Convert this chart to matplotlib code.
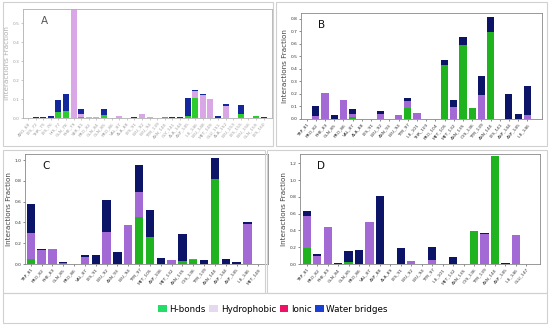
import matplotlib
matplotlib.use("Agg")
import matplotlib.pyplot as plt
from matplotlib.patches import Rectangle, Patch
import numpy as np

# ---------------- data ----------------
res_A = ["ARG_68", "LYS_72", "THR_75", "LYS_76", "HIS_77", "GLN_78", "PHE_79", "SER_81",
         "PRO_82", "GLN_84", "GLN_85", "PRO_86", "VAL_87", "ALA_88", "LYS_91", "LEU_92",
         "LEU_94", "TYR_139", "ASN_140", "GLY_141", "ALA_144", "ASP_145", "ILE_146", "LEU_148",
         "MET_149", "GLU_151", "ALA_152", "LEU_153", "LYS_155", "LEU_156", "GLN_159", "LYS_160"]
hb_A = [0, 0, 0, 0, 0.03, 0.035, 0, 0.005, 0, 0, 0.015, 0, 0, 0, 0, 0,
        0, 0, 0.003, 0, 0, 0.01, 0.105, 0, 0, 0, 0, 0, 0.02, 0, 0.012, 0]
hp_A = [0, 0, 0, 0, 0, 0, 0.59, 0.015, 0.003, 0.003, 0, 0, 0.01, 0.002, 0, 0.02,
        0.004, 0, 0, 0, 0, 0, 0.035, 0.119, 0.1, 0, 0.065, 0.002, 0, 0.002, 0, 0]
wb_A = [0.002, 0.005, 0.007, 0.008, 0.064, 0.09, 0, 0.03, 0, 0, 0.035, 0, 0, 0, 0.003, 0,
        0, 0, 0.004, 0.004, 0.004, 0.097, 0.007, 0.006, 0, 0.01, 0.007, 0, 0.047, 0, 0, 0.005]

res_B = ["TRP_81", "PRO_82", "PHE_83", "GLN_85", "PRO_86", "VAL_87", "ALA_88", "LYS_91",
         "LEU_92", "ASN_93", "LEU_94", "TYR_97", "ILE_101", "THR_103", "PRO_104", "MET_105",
         "MET_132", "ASN_135", "CYS_136", "TYR_139", "ASN_140", "LYS_141", "ASP_144", "ASP_145", "ILE_146"]
hb_B = [0, 0, 0, 0, 0, 0.015, 0, 0, 0, 0, 0, 0.09, 0, 0, 0, 0.43,
        0, 0.59, 0.085, 0, 0.69, 0, 0, 0, 0]
hp_B = [0, 0.02, 0.207, 0, 0.155, 0.025, 0, 0, 0.04, 0, 0.03, 0.055, 0.045, 0, 0, 0,
        0.095, 0, 0, 0.19, 0, 0, 0, 0, 0.03]
wb_B = [0.003, 0.08, 0, 0.03, 0, 0.04, 0, 0.003, 0.02, 0, 0, 0.02, 0, 0, 0.002, 0.04,
        0.055, 0.065, 0, 0.155, 0.12, 0.003, 0.2, 0.04, 0.23]

res_C = ["TRP_81", "PRO_82", "PHE_83", "GLN_85", "PRO_86", "VAL_87", "LYS_91", "LEU_92",
         "ASN_93", "LEU_94", "TYR_97", "MET_105", "ASP_106", "MET_132", "ASN_135", "CYS_136",
         "TYR_139", "ASN_140", "ASP_144", "ASP_145", "ILE_146", "MET_149"]
hb_C = [0.045, 0, 0, 0.01, 0, 0, 0, 0, 0, 0, 0.45, 0.26, 0, 0, 0.03, 0.035,
        0, 0.82, 0, 0, 0, 0]
hp_C = [0.255, 0.135, 0.14, 0, 0, 0.07, 0, 0.305, 0, 0.375, 0.245, 0, 0, 0.035, 0, 0.015,
        0, 0, 0, 0, 0.39, 0]
wb_C = [0.275, 0.005, 0, 0.005, 0, 0.015, 0.085, 0.31, 0.12, 0, 0.26, 0.26, 0.055, 0, 0.255, 0,
        0.035, 0.2, 0.045, 0.02, 0.012, 0]

res_D = ["TRP_81", "PRO_82", "PHE_83", "GLN_84", "GLN_85", "PRO_86", "VAL_87", "ASP_88",
         "ALA_89", "LYS_91", "LEU_92", "LEU_94", "TYR_97", "ILE_101", "MET_132", "ASN_135",
         "CYS_136", "TYR_139", "ASN_140", "ASP_145", "ILE_146", "GLU_147"]
hb_D = [0.19, 0, 0, 0, 0.025, 0, 0, 0.005, 0, 0.005, 0, 0, 0, 0, 0, 0,
        0.395, 0, 1.29, 0, 0, 0]
hp_D = [0.38, 0.1, 0.44, 0, 0, 0, 0.505, 0, 0, 0, 0.035, 0, 0.05, 0, 0, 0,
        0, 0.355, 0, 0, 0.35, 0]
wb_D = [0.065, 0.015, 0, 0.015, 0.135, 0.165, 0, 0.81, 0.005, 0.18, 0, 0.005, 0.15, 0, 0.08, 0.005,
        0, 0.01, 0, 0.01, 0, 0]

legend_labels = ["H-bonds", "Hydrophobic", "Ionic", "Water bridges"]

# ---------------- style ----------------
GREEN = "#1fb41f"
PURPLE = "#a36ad6"
NAVY = "#0b1466"
A_GREEN = "#2ccc2c"
A_PURPLE = "#d9a6e6"
A_NAVY = "#13289c"

W, H = 550, 328
fig = plt.figure(figsize=(5.5, 3.28), dpi=100)
fig.patch.set_facecolor("white")

def frac(l, t, r, b):
    return [l / W, 1 - b / H, (r - l) / W, (b - t) / H]

# panel boxes
for (l, t, r, b) in [(3, 2, 273, 146), (276, 2, 547, 146), (3, 150, 265, 293), (267, 150, 547, 293), (3, 293, 547, 323)]:
    fig.patches.append(Rectangle((l / W, 1 - b / H), (r - l) / W, (b - t) / H,
                                 transform=fig.transFigure, fill=False,
                                 edgecolor="#d0d0d0", linewidth=0.8))

def panel(rect, names, hb, hp, wb, xlim, ylim, yticks, letter, cols, faded=False):
    ax = fig.add_axes(frac(*rect))
    x = np.arange(len(names))
    hb = np.array(hb); hp = np.array(hp); wb = np.array(wb)
    ax.bar(x, hb, width=0.78, color=cols[0], linewidth=0)
    ax.bar(x, hp, width=0.78, bottom=hb, color=cols[1], linewidth=0)
    ax.bar(x, wb, width=0.78, bottom=hb + hp, color=cols[2], linewidth=0)
    ax.set_xlim(*xlim)
    ax.set_ylim(*ylim)
    ax.set_yticks(yticks)
    ax.set_yticklabels([f"{v:.1f}" for v in yticks])
    ax.set_xticks(x)
    tc = "#a0a0a0" if faded else "#333333"
    ax.set_xticklabels(names, rotation=50, ha="right", rotation_mode="anchor", fontsize=3.2, color=tc)
    ax.tick_params(axis="y", labelsize=3.2, colors=tc, length=1.5, width=0.4, pad=1)
    ax.tick_params(axis="x", length=1.5, width=0.4, pad=1, colors=tc)
    for s in ax.spines.values():
        s.set_color("#b0b0b0" if faded else "#888888")
        s.set_linewidth(0.6)
    ax.set_ylabel("Interactions Fraction", fontsize=5.2, color="#b0b0b0" if faded else "#444444", labelpad=2)
    ax.text(0.07, 0.86, letter, transform=ax.transAxes, fontsize=7.5,
            color="#555555" if faded else "#111111")
    return ax

panel((23, 9, 272, 118), res_A, hb_A, hp_A, wb_A, (-0.66, 32.1), (0, 0.575),
      np.arange(0, 0.51, 0.1), "A", (A_GREEN, A_PURPLE, A_NAVY), faded=True)
panel((301, 13, 542, 119), res_B, hb_B, hp_B, wb_B, (-0.62, 25.6), (0, 0.845),
      np.arange(0, 0.81, 0.1), "B", (GREEN, PURPLE, NAVY))
panel((25, 154, 268, 264), res_C, hb_C, hp_C, wb_C, (-0.53, 21.9), (0, 1.06),
      np.arange(0, 1.01, 0.2), "C", (GREEN, PURPLE, NAVY))
panel((300, 154, 540, 264), res_D, hb_D, hp_D, wb_D, (-0.64, 22.3), (0, 1.31),
      np.arange(0, 1.21, 0.2), "D", (GREEN, PURPLE, NAVY))

handles = [Patch(facecolor=c, edgecolor="none") for c in ["#22dd66", "#e6d8ef", "#ee1166", "#1a3fd6"]]
fig.legend(handles, legend_labels, loc="center", bbox_to_anchor=(273 / W, 1 - 309 / H),
           ncol=4, frameon=False, fontsize=6.3, handlelength=1.0, handleheight=1.0,
           handletextpad=0.3, columnspacing=0.4, borderpad=0.2)

fig.savefig("out.png", dpi=100)
